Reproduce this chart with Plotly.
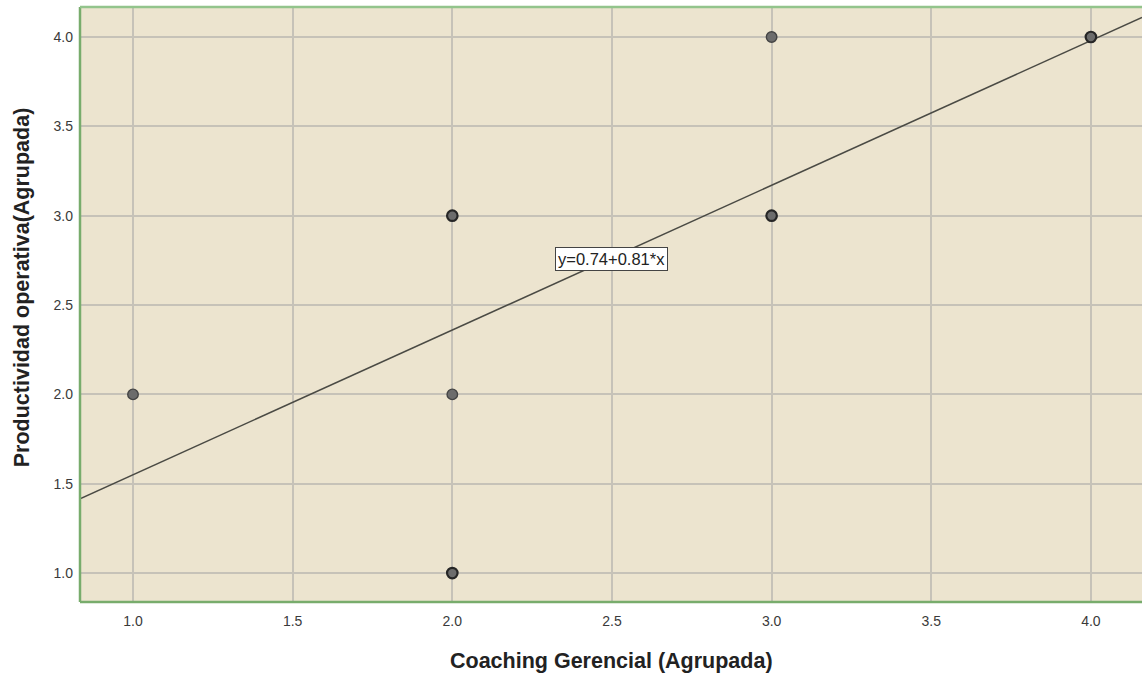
import plotly.graph_objects as go

# Data
coaching = [1, 2, 2, 2, 3, 3, 4]
productividad = [2, 3, 2, 1, 4, 3, 4]
counts = [1, 2, 1, 2, 1, 2, 3]  # overlap (darker outline where several cases coincide)
intercept = 0.74
slope = 0.81
x_ticks = [1.0, 1.5, 2.0, 2.5, 3.0, 3.5, 4.0]
y_ticks = [1.0, 1.5, 2.0, 2.5, 3.0, 3.5, 4.0]
x_range = [0.834, 4.16]
y_range = [0.838, 4.168]

FONT = "Liberation Sans, Arial"

fig = go.Figure()

# fit line across the full x range
lx = x_range
ly = [intercept + slope * v for v in lx]
fig.add_trace(go.Scatter(x=lx, y=ly, mode="lines",
                         line=dict(color="#4a4a44", width=1.5),
                         hoverinfo="skip", showlegend=False))

fig.add_trace(go.Scatter(
    x=coaching, y=productividad, mode="markers",
    marker=dict(size=10.5, color="#6c6c6c",
                line=dict(color=["#444444" if c == 1 else "#262626" for c in counts],
                          width=[1.4 if c == 1 else 2.2 for c in counts])),
    showlegend=False))

fig.add_annotation(x=2.497, y=2.757, text="y=0.74+0.81*x", showarrow=False,
                   font=dict(family=FONT, size=16.5, color="#222"),
                   bgcolor="white", bordercolor="#444", borderwidth=1, borderpad=2)

# axis titles
fig.add_annotation(xref="paper", yref="paper", x=0.5, y=-0.099,
                   xanchor="center", yanchor="middle",
                   text="<b>Coaching Gerencial (Agrupada)</b>", showarrow=False,
                   font=dict(family=FONT, size=21.5, color="#222"))
fig.add_annotation(xref="paper", yref="paper", x=-0.0546, y=0.529, textangle=-90,
                   xanchor="center", yanchor="middle",
                   text="<b>Productividad operativa(Agrupada)</b>", showarrow=False,
                   font=dict(family=FONT, size=21.5, color="#222"))

# plot borders (left, top, bottom)
border = "#78ac6c"
fig.add_shape(type="line", xref="paper", yref="paper", x0=0, x1=0, y0=0, y1=1,
              line=dict(color=border, width=2.5))
fig.add_shape(type="line", xref="paper", yref="paper", x0=0, x1=1, y0=1, y1=1,
              line=dict(color="#93c48c", width=2.5))
fig.add_shape(type="line", xref="paper", yref="paper", x0=0, x1=1, y0=0, y1=0,
              line=dict(color=border, width=2.5))

axis_common = dict(showgrid=True, gridcolor="#c6c2b8", gridwidth=1.5,
                   zeroline=False, showline=False, ticks="",
                   tickfont=dict(family=FONT, size=14, color="#3a3a3a"))

fig.update_layout(
    width=1142, height=677,
    margin=dict(l=80, r=0, t=7, b=75),
    paper_bgcolor="white", plot_bgcolor="#ece4cf",
    xaxis=dict(range=x_range, tickvals=x_ticks,
               ticktext=[f"{v:.1f}" for v in x_ticks], ticklabelstandoff=9,
               **axis_common),
    yaxis=dict(range=y_range, tickvals=y_ticks,
               ticktext=[f"{v:.1f}" for v in y_ticks], ticklabelstandoff=6,
               **axis_common),
)

fig.write_html("out.html", config={"displayModeBar": False},
               post_script="document.body.style.margin='0';")
